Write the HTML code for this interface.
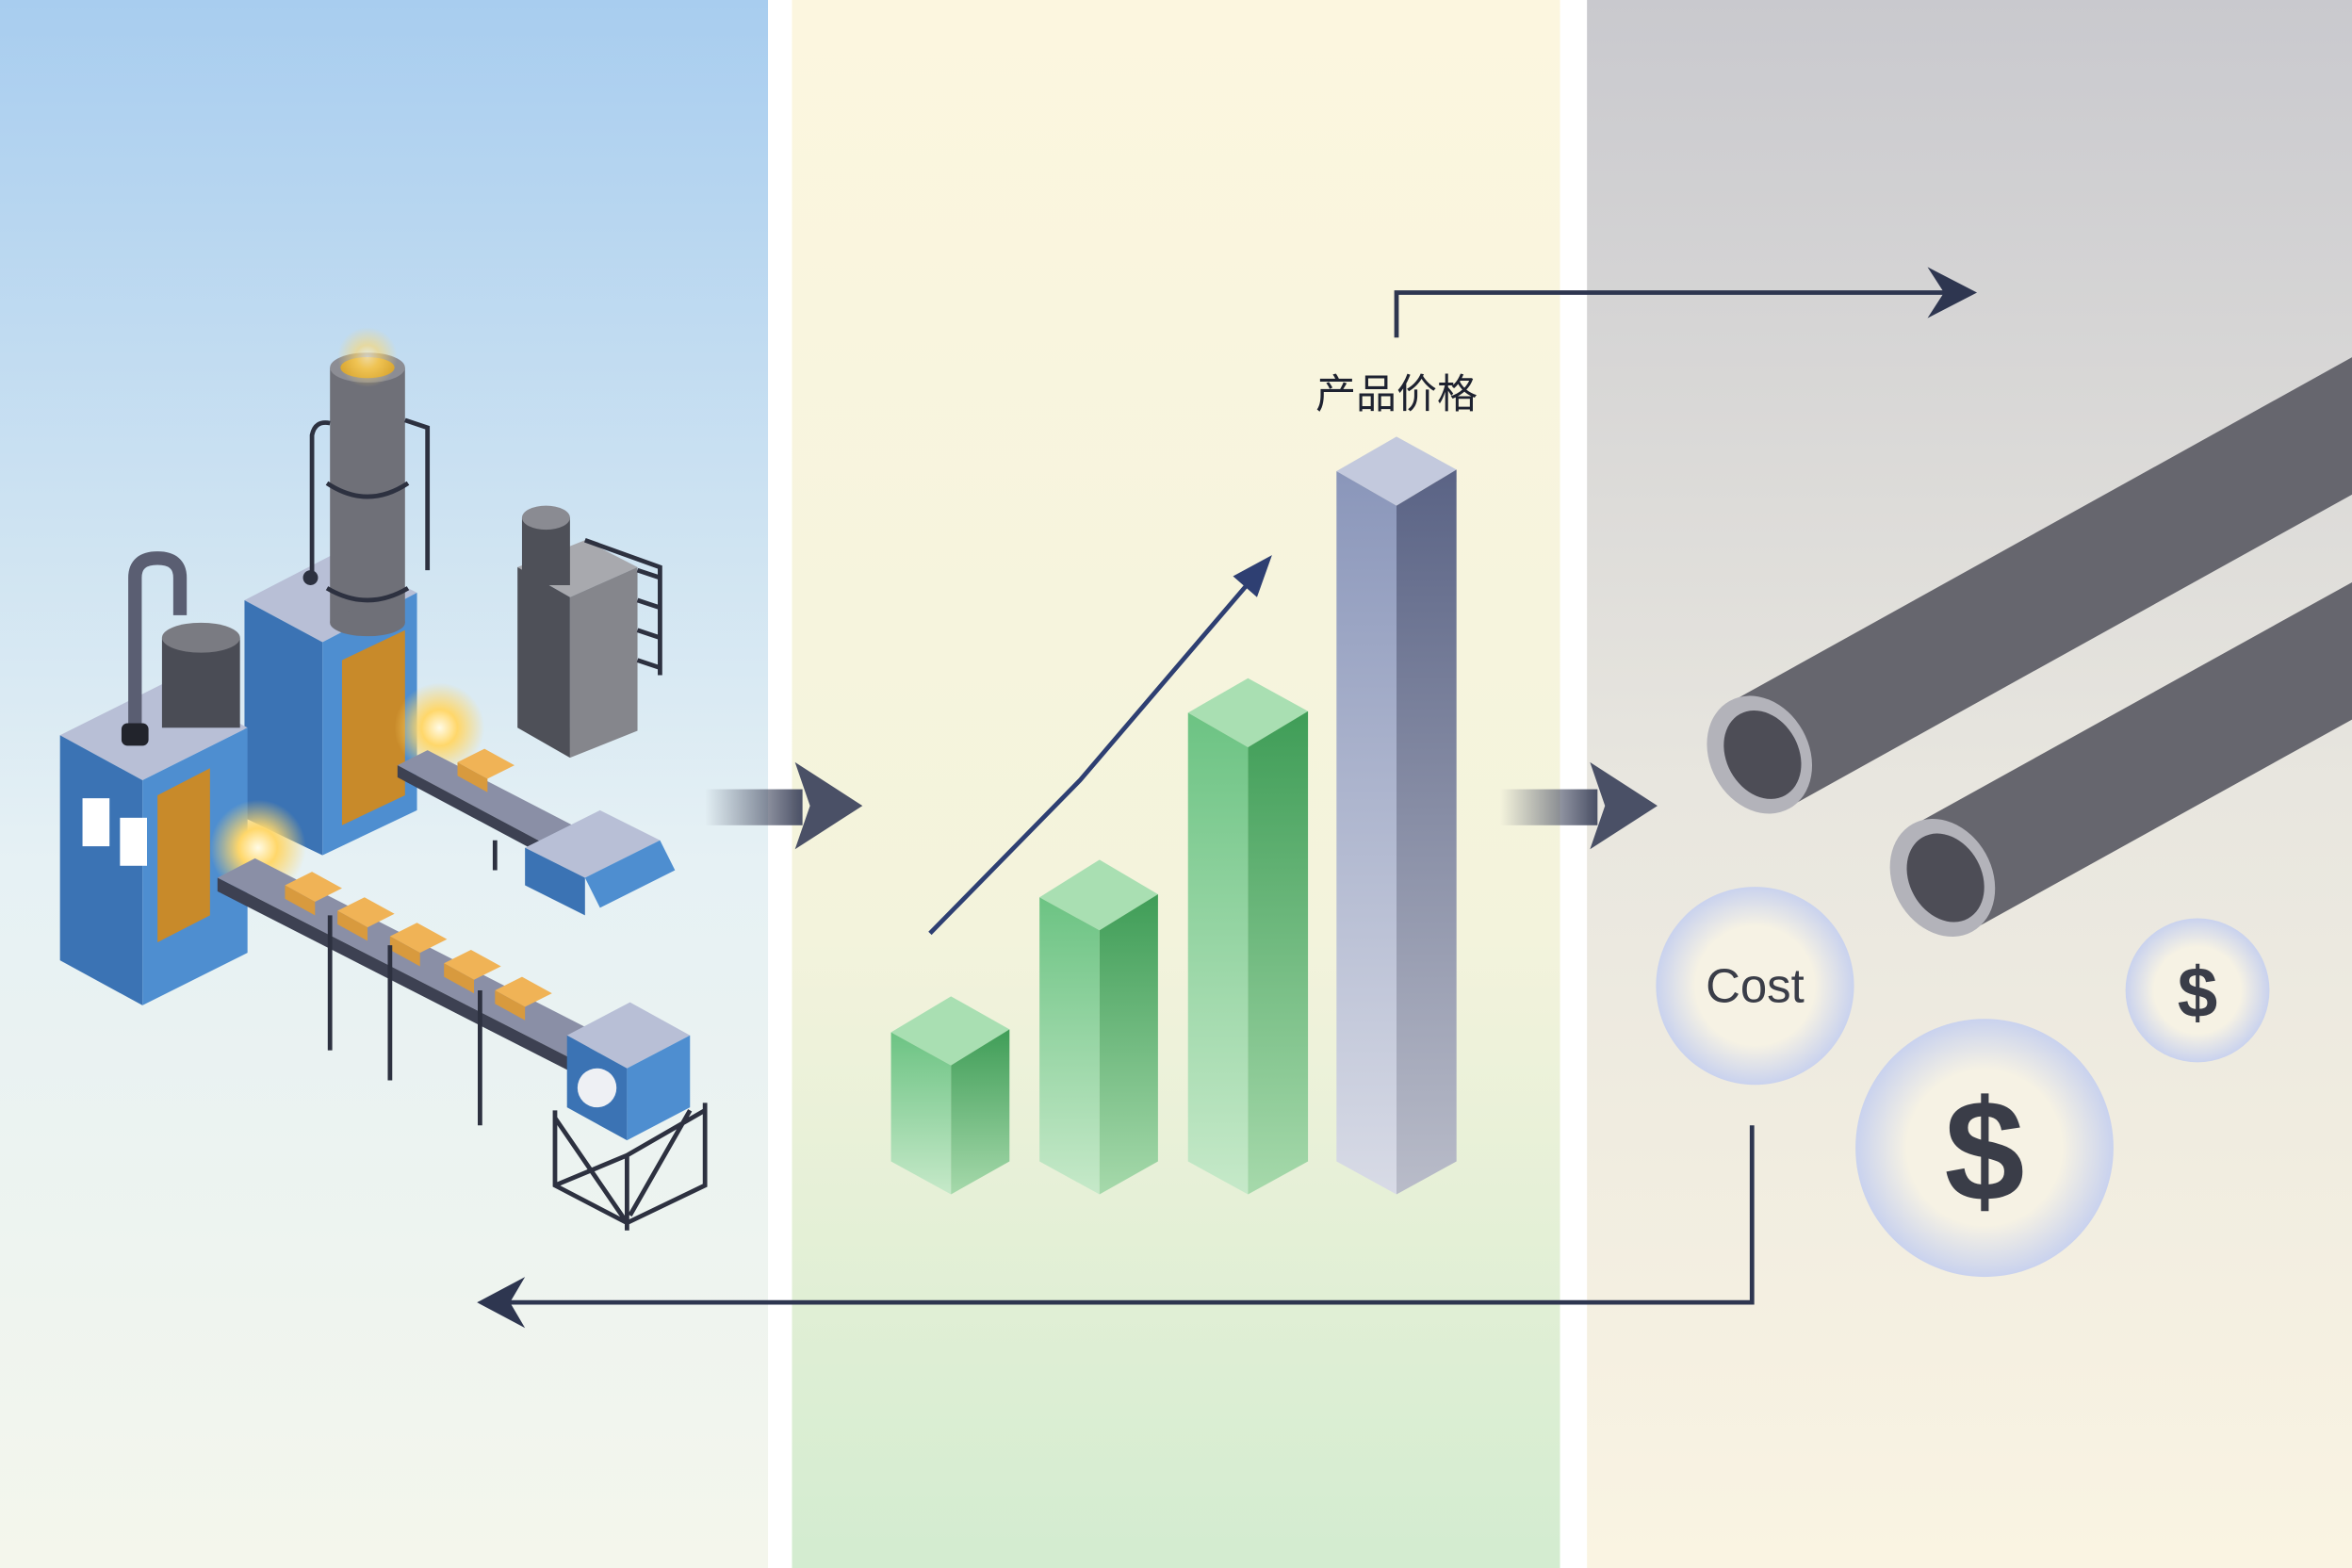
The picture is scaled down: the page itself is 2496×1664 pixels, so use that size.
<!DOCTYPE html>
<html><head><meta charset="utf-8"><style>html,body{margin:0;padding:0;background:#fff}svg{display:block}</style></head>
<body>
<svg width="2496" height="1664" viewBox="0 0 1568 1045" preserveAspectRatio="none" xmlns="http://www.w3.org/2000/svg">
<defs>
<linearGradient id="p1" x1="0" y1="0" x2="0" y2="1"><stop offset="0" stop-color="#a8cdef"/><stop offset="0.55" stop-color="#e6f1f4"/><stop offset="1" stop-color="#f4f6ec"/></linearGradient>
<linearGradient id="p2" x1="0" y1="0" x2="0" y2="1"><stop offset="0" stop-color="#fcf6df"/><stop offset="0.6" stop-color="#f3f3dc"/><stop offset="1" stop-color="#d3ecd0"/></linearGradient>
<linearGradient id="p3" x1="0" y1="0" x2="0" y2="1"><stop offset="0" stop-color="#c9c9ce"/><stop offset="0.5" stop-color="#e8e6df"/><stop offset="1" stop-color="#faf4e2"/></linearGradient>
<linearGradient id="fa" x1="0" y1="0" x2="1" y2="0"><stop offset="0" stop-color="#4a5066" stop-opacity="0"/><stop offset="1" stop-color="#4a5066"/></linearGradient>
<linearGradient id="gf" x1="0" y1="0" x2="0" y2="1"><stop offset="0" stop-color="#6cc383"/><stop offset="1" stop-color="#c6e9c9"/></linearGradient>
<linearGradient id="gs" x1="0" y1="0" x2="0" y2="1"><stop offset="0" stop-color="#3f9d57"/><stop offset="1" stop-color="#a6d9ab"/></linearGradient>
<linearGradient id="bf" x1="0" y1="0" x2="0" y2="1"><stop offset="0" stop-color="#8a96ba"/><stop offset="1" stop-color="#d8dbe6"/></linearGradient>
<linearGradient id="bs" x1="0" y1="0" x2="0" y2="1"><stop offset="0" stop-color="#5a6385"/><stop offset="1" stop-color="#b9bcc9"/></linearGradient>
<radialGradient id="bub"><stop offset="0.6" stop-color="#f6f2e4"/><stop offset="1" stop-color="#c9d2ee"/></radialGradient>
<radialGradient id="glow"><stop offset="0" stop-color="#fffbe6"/><stop offset="0.4" stop-color="#ffd76a"/><stop offset="1" stop-color="#ffd76a" stop-opacity="0"/></radialGradient>
</defs>
<rect width="1568" height="1045" fill="#fff"/>
<rect x="0" y="0" width="512" height="1045" fill="url(#p1)"/>
<rect x="528" y="0" width="512" height="1045" fill="url(#p2)"/>
<rect x="1058" y="0" width="510" height="1045" fill="url(#p3)"/>

<!-- factory -->
<g stroke="none">
 <polygon points="345,378 390,360 425,378 380,398" fill="#a8a9ae"/>
 <polygon points="345,378 380,398 380,505 345,485" fill="#4e5058"/>
 <polygon points="380,398 425,378 425,487 380,505" fill="#85868c"/>
 <rect x="348" y="345" width="32" height="45" fill="#4e5058"/><ellipse cx="364" cy="345" rx="16" ry="8" fill="#8a8b92"/>
 <path d="M390 360 L440 378 L440 450 M425 380 L440 385 M425 400 L440 405 M425 420 L440 425 M425 440 L440 445" stroke="#2d3140" stroke-width="3" fill="none"/>
 <polygon points="163,400 225,368 278,395 215,428" fill="#b8bfd6"/>
 <polygon points="163,400 215,428 215,570 163,545" fill="#3b73b4"/>
 <polygon points="215,428 278,395 278,540 215,570" fill="#4e8ed0"/>
 <polygon points="228,440 270,420 270,530 228,550" fill="#c88a2a"/>
 <circle cx="293" cy="485" r="30" fill="url(#glow)"/>
 <rect x="220" y="245" width="50" height="170" fill="#6f7078"/>
 <ellipse cx="245" cy="415" rx="25" ry="9" fill="#6f7078"/>
 <ellipse cx="245" cy="245" rx="25" ry="10" fill="#8c8d94"/><ellipse cx="245" cy="245" rx="18" ry="7" fill="#d8a530"/>
 <circle cx="245" cy="238" r="20" fill="url(#glow)" opacity="0.6"/>
 <path d="M208 383 L208 290 Q210 280 220 282 M218 322 Q245 340 272 322 M218 392 Q245 408 272 392 M270 280 L285 285 L285 380" stroke="#2d3140" stroke-width="3" fill="none"/>
 <circle cx="207" cy="385" r="5" fill="#2d3140"/>
 <polygon points="40,490 110,455 165,485 95,520" fill="#b8bfd6"/>
 <polygon points="40,490 95,520 95,670 40,640" fill="#3b73b4"/>
 <polygon points="95,520 165,485 165,635 95,670" fill="#4e8ed0"/>
 <polygon points="105,530 140,512 140,610 105,628" fill="#c88a2a"/>
 <rect x="55" y="532" width="18" height="32" fill="#fff"/><rect x="80" y="545" width="18" height="32" fill="#fff"/>
 <rect x="108" y="425" width="52" height="60" fill="#4a4c55"/><ellipse cx="134" cy="425" rx="26" ry="10" fill="#7a7b82"/>
 <path d="M90 485 L90 385 Q90 372 105 372 Q120 372 120 385 L120 410" stroke="#5a5e72" stroke-width="9" fill="none"/>
 <rect x="81" y="482" width="18" height="15" rx="4" fill="#22242c"/>
 <circle cx="172" cy="565" r="32" fill="url(#glow)"/>
 <!-- conveyors -->
 <polygon points="145,585 170,572 405,692 380,705" fill="#8a8fa6"/>
 <polygon points="145,585 380,705 380,714 145,594" fill="#3d4152"/>
 <polygon points="265,510 285,500 405,562 385,574" fill="#8a8fa6"/>
 <polygon points="265,510 385,574 385,582 265,518" fill="#3d4152"/>
 <g fill="#f0b356">
  <polygon points="190,590 208,581 228,592 210,601"/><polygon points="225,607 243,598 263,609 245,618"/><polygon points="260,624 278,615 298,626 280,635"/><polygon points="296,642 314,633 334,644 316,653"/><polygon points="330,660 348,651 368,662 350,671"/><polygon points="305,508 323,499 343,510 325,519"/>
 </g>
 <g fill="#d89a3e">
  <polygon points="190,590 210,601 210,610 190,599"/><polygon points="225,607 245,618 245,627 225,616"/><polygon points="260,624 280,635 280,644 260,633"/><polygon points="296,642 316,653 316,662 296,651"/><polygon points="330,660 350,671 350,680 330,669"/><polygon points="305,508 325,519 325,528 305,517"/>
 </g>
 <g stroke="#2d3140" stroke-width="3" fill="none">
  <path d="M220 610 L220 700 M260 630 L260 720 M320 660 L320 750 M330 560 L330 580"/>
 </g>
 <polygon points="350,565 400,540 440,560 390,585" fill="#b8bfd6"/>
 <polygon points="350,565 390,585 390,610 350,590" fill="#3b73b4"/>
 <polygon points="390,585 440,560 450,580 400,605" fill="#4e8ed0"/>
 <polygon points="378,690 420,668 460,690 418,712" fill="#b8bfd6"/>
 <polygon points="378,690 418,712 418,760 378,738" fill="#3b73b4"/>
 <polygon points="418,712 460,690 460,738 418,760" fill="#4e8ed0"/>
 <circle cx="398" cy="725" r="13" fill="#eef0f4"/>
 <path d="M370 740 L370 790 L418 815 L470 790 L470 735 M370 745 L418 815 M418 770 L370 790 M418 770 L470 740 M418 770 L418 820 M460 740 L420 810" stroke="#2d3140" stroke-width="3" fill="none"/>
</g>

<rect x="470" y="526" width="65" height="24" fill="url(#fa)"/>
<polygon points="530,508 575,537 530,566 540,537" fill="#4a5066"/>
<rect x="1000" y="526" width="65" height="24" fill="url(#fa)"/>
<polygon points="1060,508 1105,537 1060,566 1070,537" fill="#4a5066"/>

<polyline points="620,622 720,520 838,382" fill="none" stroke="#2e3f72" stroke-width="3"/>
<polygon points="848,370 822,384 838,398" fill="#2e3f72"/>

<g>
 <polygon points="594,688 634,664 673,686 634,710" fill="#a9dfb2"/>
 <polygon points="594,688 634,710 634,796 594,774" fill="url(#gf)"/>
 <polygon points="634,710 673,686 673,774 634,796" fill="url(#gs)"/>
 <polygon points="693,598 733,573 772,596 733,620" fill="#a9dfb2"/>
 <polygon points="693,598 733,620 733,796 693,774" fill="url(#gf)"/>
 <polygon points="733,620 772,596 772,774 733,796" fill="url(#gs)"/>
 <polygon points="792,475 832,452 872,474 832,498" fill="#a9dfb2"/>
 <polygon points="792,475 832,498 832,796 792,774" fill="url(#gf)"/>
 <polygon points="832,498 872,474 872,774 832,796" fill="url(#gs)"/>
 <polygon points="891,314 931,291 971,313 931,337" fill="#c3c9dd"/>
 <polygon points="891,314 931,337 931,796 891,774" fill="url(#bf)"/>
 <polygon points="931,337 971,313 971,774 931,796" fill="url(#bs)"/>
</g>

<text x="931" y="272" text-anchor="middle" font-family="'Liberation Sans','Noto Sans CJK SC',sans-serif" font-size="27" fill="#1e2230">产品价格</text>

<polyline points="931,225 931,195 1300,195" fill="none" stroke="#2e3650" stroke-width="3"/>
<polygon points="1318,195 1285,178 1296,195 1285,212" fill="#2e3650"/>
<polyline points="1168,750 1168,868 335,868" fill="none" stroke="#2e3650" stroke-width="3"/>
<polygon points="318,868 350,851 340,868 350,885" fill="#2e3650"/>

<!-- pipes -->
<line x1="1173" y1="503" x2="1620" y2="255" stroke="#66666e" stroke-width="80"/>
<line x1="1295" y1="585" x2="1620" y2="405" stroke="#66666e" stroke-width="80"/>
<ellipse cx="1173" cy="503" rx="33" ry="41" fill="#b3b3ba" transform="rotate(-29 1173 503)"/>
<ellipse cx="1175" cy="503" rx="24" ry="31" fill="#4d4d56" transform="rotate(-29 1175 503)"/>
<ellipse cx="1295" cy="585" rx="33" ry="41" fill="#b3b3ba" transform="rotate(-29 1295 585)"/>
<ellipse cx="1297" cy="585" rx="24" ry="31" fill="#4d4d56" transform="rotate(-29 1297 585)"/>

<circle cx="1170" cy="657" r="66" fill="url(#bub)"/>
<text x="1170" y="668" text-anchor="middle" font-family="'Liberation Sans',sans-serif" font-size="32" fill="#3a3d48">Cost</text>
<circle cx="1465" cy="660" r="48" fill="url(#bub)"/>
<text x="1465" y="678" text-anchor="middle" font-family="'Liberation Sans',sans-serif" font-size="48" font-weight="bold" fill="#3a3d48">$</text>
<circle cx="1323" cy="765" r="86" fill="url(#bub)"/>
<text x="1323" y="800" text-anchor="middle" font-family="'Liberation Sans',sans-serif" font-size="96" font-weight="bold" fill="#3a3d48">$</text>
</svg>
</body></html>
